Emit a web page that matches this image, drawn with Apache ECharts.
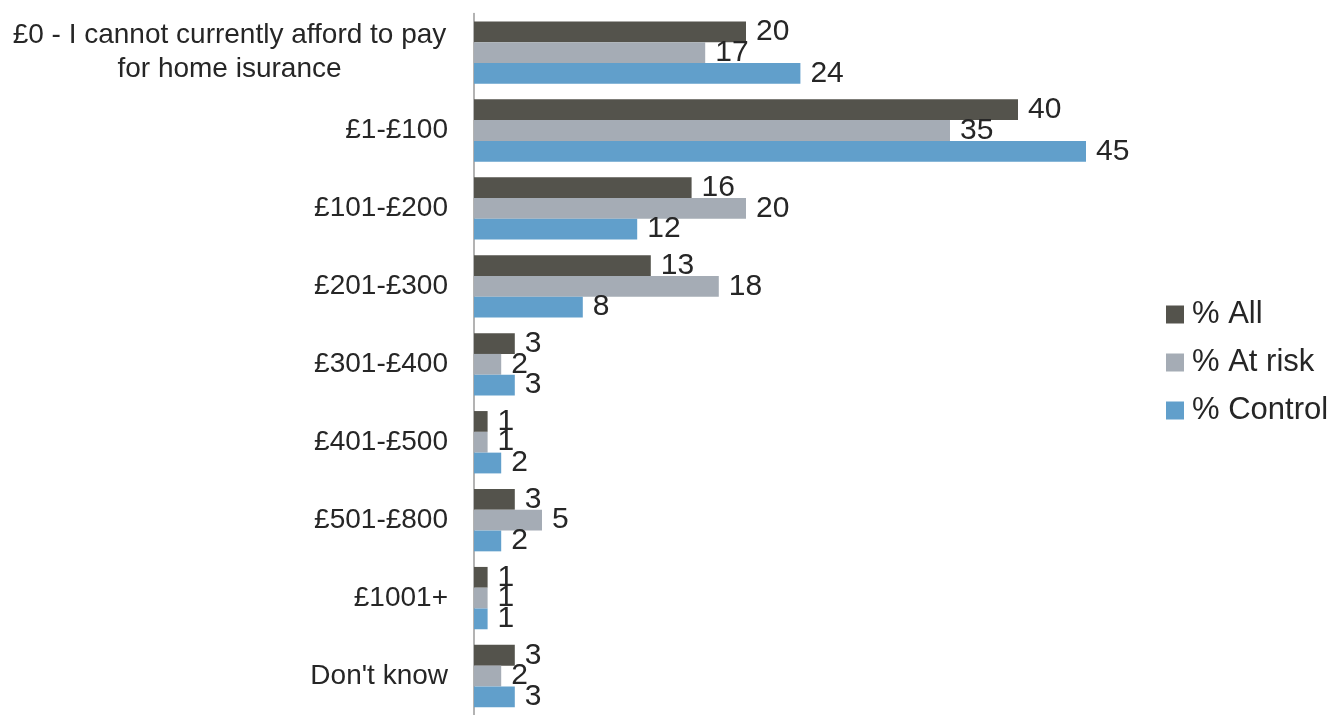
<!DOCTYPE html>
<html>
<head>
<meta charset="utf-8">
<script src="https://cdn.jsdelivr.net/npm/echarts@6/dist/echarts.min.js"></script>
<style>
  html, body { margin: 0; padding: 0; background: #ffffff; }
  #chart { width: 1331px; height: 715px; }
</style>
</head>
<body>
<div id="chart"></div>
<script>
// Amount respondents would pay for home insurance (%)
const categories = [
  '£0 - I cannot currently afford to pay\nfor home isurance',
  '£1-£100',
  '£101-£200',
  '£201-£300',
  '£301-£400',
  '£401-£500',
  '£501-£800',
  '£1001+',
  "Don't know"
];
const seriesNames = ['% All', '% At risk', '% Control'];
const allValues = [20, 40, 16, 13, 3, 1, 3, 1, 3];
const atRiskValues = [17, 35, 20, 18, 2, 1, 5, 1, 2];
const controlValues = [24, 45, 12, 8, 3, 2, 2, 1, 3];
const colors = ['#54534c', '#a5acb5', '#619fcb'];

const FONT = '"Liberation Sans", Arial, sans-serif';
const TEXT = '#262626';

const chart = echarts.init(document.getElementById('chart'), null, { renderer: 'canvas' });

function barSeries(name, data, color) {
  return {
    name: name,
    type: 'bar',
    data: data,
    barGap: '0%',
    barCategoryGap: '20%',
    itemStyle: { color: color },
    label: {
      show: true,
      position: 'right',
      distance: 10,
      fontFamily: FONT,
      fontSize: 30,
      color: TEXT
    },
    emphasis: { disabled: true },
    animation: false
  };
}

chart.setOption({
  animation: false,
  textStyle: { fontFamily: FONT },
  grid: { left: 474, top: 13.6, width: 680, height: 708.75, containLabel: false },
  xAxis: {
    type: 'value',
    min: 0,
    max: 50,
    show: false
  },
  yAxis: {
    type: 'category',
    inverse: true,
    data: categories,
    axisLine: { show: true, lineStyle: { color: '#9a9a9a', width: 1.5 } },
    axisTick: { show: false },
    splitLine: { show: false },
    axisLabel: {
      margin: 26,
      fontFamily: FONT,
      fontSize: 28,
      color: TEXT,
      formatter: function (value) {
        if (value.indexOf('\n') < 0) return value;
        return value.split('\n').map(function (l) { return '{c|' + l + '}'; }).join('\n');
      },
      rich: {
        c: { width: 437, align: 'center', fontFamily: FONT, fontSize: 28, color: TEXT, lineHeight: 34 }
      }
    }
  },
  legend: {
    orient: 'vertical',
    left: 1166,
    top: 299,
    padding: 0,
    itemWidth: 18,
    itemHeight: 18,
    itemGap: 17,
    icon: 'rect',
    selectedMode: false,
    data: seriesNames,
    textStyle: { fontFamily: FONT, fontSize: 31, color: TEXT, padding: [0, 0, 0, 3] }
  },
  series: [
    barSeries(seriesNames[0], allValues, colors[0]),
    barSeries(seriesNames[1], atRiskValues, colors[1]),
    barSeries(seriesNames[2], controlValues, colors[2])
  ]
});
</script>
</body>
</html>
